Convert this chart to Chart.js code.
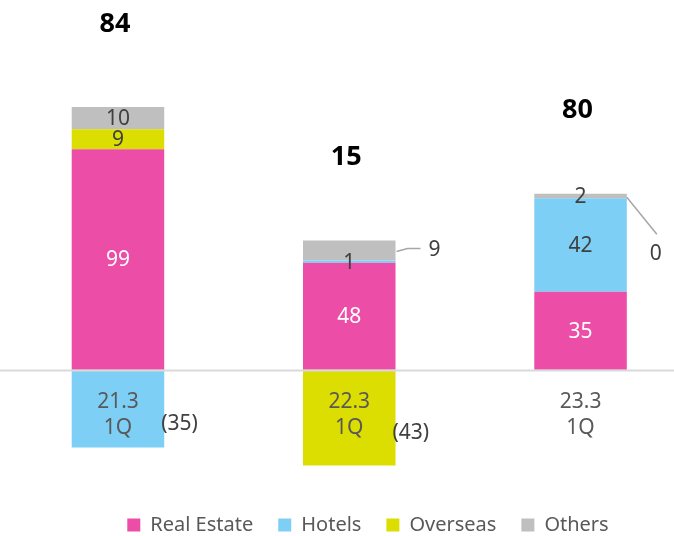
<!DOCTYPE html>
<html>
<head>
<meta charset="utf-8">
<script src="https://cdn.jsdelivr.net/npm/chart.js@4.4.0/dist/chart.umd.min.js"></script>
<style>
  html, body { margin: 0; padding: 0; background: #fff; }
  #wrap { width: 674px; height: 536px; position: relative; }
</style>
</head>
<body>
<div id="wrap"><canvas id="chart"></canvas></div>
<script>
const categories = [['21.3', '1Q'], ['22.3', '1Q'], ['23.3', '1Q']];
const realEstate = [99, 48, 35];
const hotels = [-35, 1, 42];
const overseas = [9, -43, 0];
const others = [10, 9, 2];
const totals = [84, 15, 80];

const seriesNames = ['Real Estate', 'Hotels', 'Overseas', 'Others'];
const seriesColors = ['#EC4DA6', '#7DCFF5', '#DCDD00', '#BFBFBF'];
const seriesValues = [realEstate, hotels, overseas, others];

const FONT = '"Noto Sans", sans-serif';

// labels that sit outside the bar with a leader line (series index, category index)
const callouts = [
    {series: 3, index: 1, kind: 'side'},
    {series: 2, index: 2, kind: 'below'}
];

const zeroLine = {
    id: 'zeroLine',
    afterDatasetsDraw(chart) {
        const ctx = chart.ctx;
        const y0 = Math.round(chart.scales.y.getPixelForValue(0)) + 0.5;
        ctx.save();
        ctx.strokeStyle = '#D9D9D9';
        ctx.lineWidth = 2;
        ctx.beginPath();
        ctx.moveTo(0, y0);
        ctx.lineTo(chart.width, y0);
        ctx.stroke();
        ctx.restore();
    }
};

const valueLabels = {
    id: 'valueLabels',
    afterDatasetsDraw(chart) {
        const ctx = chart.ctx;
        ctx.save();
        ctx.font = `21px ${FONT}`;
        ctx.textBaseline = 'middle';
        chart.data.datasets.forEach((ds, di) => {
            const meta = chart.getDatasetMeta(di);
            meta.data.forEach((bar, i) => {
                const v = seriesValues[di][i];
                const cy = (bar.y + bar.base) / 2;
                const right = bar.x + bar.width / 2;
                const callout = callouts.find(c => c.series === di && c.index === i);
                ctx.fillStyle = '#404040';
                if (callout) {
                    ctx.strokeStyle = '#A6A6A6';
                    ctx.lineWidth = 1.5;
                    ctx.beginPath();
                    if (callout.kind === 'side') {
                        ctx.moveTo(right + 1, cy + 1);
                        ctx.lineTo(right + 12, cy - 2);
                        ctx.lineTo(right + 25, cy - 2);
                        ctx.stroke();
                        ctx.textAlign = 'center';
                        ctx.fillText(String(v), right + 39, cy - 1);
                    } else {
                        ctx.moveTo(right, bar.y - 1);
                        ctx.lineTo(right + 30, bar.y + 36);
                        ctx.stroke();
                        ctx.textAlign = 'center';
                        ctx.fillText(String(v), right + 29, bar.y + 56);
                    }
                } else if (v < 0) {
                    ctx.textAlign = 'left';
                    ctx.fillText(`(${-v})`, right - 3, cy + 15);
                } else if (v > 0) {
                    ctx.textAlign = 'center';
                    if (di === 0) ctx.fillStyle = '#FFFFFF';
                    ctx.fillText(String(v), bar.x, cy + 1);
                }
            });
        });

        // totals above each stack
        ctx.font = `bold 27px ${FONT}`;
        ctx.fillStyle = '#000000';
        ctx.textAlign = 'center';
        totals.forEach((t, i) => {
            const top = seriesValues.reduce((s, arr) => s + Math.max(arr[i], 0), 0);
            const x = chart.scales.x.getPixelForValue(i);
            const y = chart.scales.y.getPixelForValue(top);
            ctx.fillText(String(t), x - 3, y - 83);
        });
        ctx.restore();
    }
};

const legendShift = {
    id: 'legendShift',
    afterLayout(chart) {
        const lg = chart.legend;
        lg.left += 31;
        lg.right += 31;
        lg.top += 9;
        lg.bottom += 9;
    }
};

const ctx = document.getElementById('chart').getContext('2d');
const chart = new Chart(ctx, {
    type: 'bar',
    data: {
        datasets: seriesNames.map((name, k) => ({
            label: name,
            data: seriesValues[k].map((v, i) => ({x: i, y: v})),
            backgroundColor: seriesColors[k],
            borderWidth: 0,
            categoryPercentage: 1,
            barPercentage: 0.4
        }))
    },
    options: {
        responsive: true,
        maintainAspectRatio: false,
        animation: false,
        layout: {padding: 0},
        scales: {
            x: {
                type: 'linear',
                stacked: true,
                offset: false,
                position: {y: 0},
                min: -0.51,
                max: 2.404,
                grid: {display: false, drawTicks: false},
                border: {display: false},
                afterBuildTicks: (scale) => {
                    scale.ticks = categories.map((_, i) => ({value: i}));
                },
                ticks: {
                    z: 1,
                    callback: (v) => categories[v],
                    color: '#595959',
                    font: {family: FONT, size: 21, lineHeight: 1.25},
                    padding: 19,
                    autoSkip: false,
                    maxRotation: 0
                }
            },
            y: {
                display: false,
                stacked: true,
                min: -50,
                max: 166
            }
        },
        plugins: {
            tooltip: {enabled: false},
            legend: {
                position: 'bottom',
                labels: {
                    boxWidth: 13,
                    boxHeight: 13,
                    padding: 25,
                    color: '#595959',
                    font: {family: FONT, size: 20}
                }
            }
        }
    },
    plugins: [zeroLine, valueLabels, legendShift]
});
</script>
</body>
</html>
